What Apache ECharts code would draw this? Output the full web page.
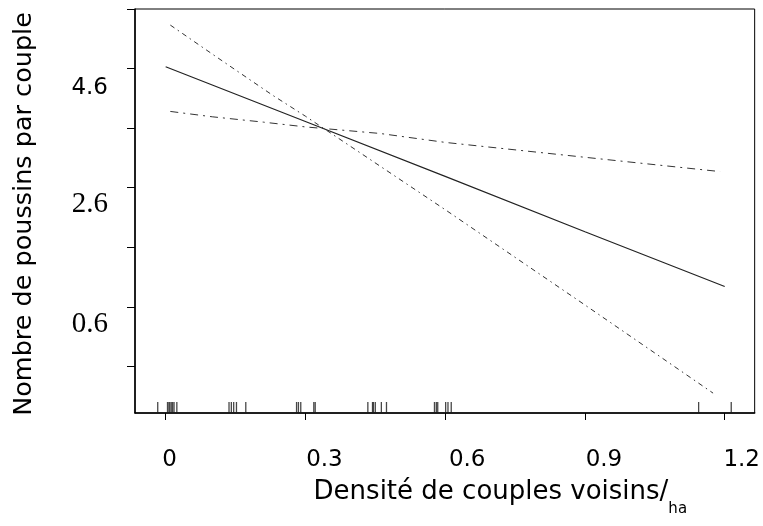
<!DOCTYPE html>
<html>
<head>
<meta charset="utf-8">
<script src="https://cdn.jsdelivr.net/npm/echarts@6/dist/echarts.min.js"></script>
<style>
html,body{margin:0;padding:0;background:#fff;}
#chart{width:763px;height:526px;}
</style>
</head>
<body>
<div id="chart"></div>
<script>
// ---- data ----
const xTickValues = [0, 0.3, 0.6, 0.9, 1.2];
const xTickLabels = ['0', '0.3', '0.6', '0.9', '1.2'];
const yTickValues = [-0.4, 0.6, 1.6, 2.6, 3.6, 4.6, 5.6];
const yLabelValues = [0.6, 2.6, 4.6];
const yLabelTexts = ['0.6', '2.6', '4.6'];

const fitX = [0, 0.3, 0.6, 0.9, 1.2];
const fitY = [4.63, 3.71, 2.79, 1.86, 0.94];

const bandAX = [0.01, 0.11, 0.23, 0.3, 0.6, 0.9, 1.175];
const bandAY = [5.33, 4.79, 4.15, 3.8, 2.23, 0.63, -0.85];

const bandBX = [0.01, 0.1, 0.21, 0.3, 0.46, 0.6, 0.9, 1.19];
const bandBY = [3.88, 3.79, 3.7, 3.62, 3.51, 3.36, 3.11, 2.87];

const rugX = [-0.017, 0.004, 0.007, 0.009, 0.012, 0.015, 0.018, 0.024,
  0.136, 0.141, 0.146, 0.152, 0.172,
  0.281, 0.285, 0.290, 0.318, 0.321,
  0.434, 0.444, 0.446, 0.450, 0.463, 0.474,
  0.577, 0.581, 0.584, 0.601, 0.606, 0.613,
  1.144, 1.214];

const xName = 'Densité de couples voisins/';
const xNameSub = 'ha';
const yName = 'Nombre de poussins par couple';

// ---- axis extents (layout) ----
const X_MIN = -0.0658, X_MAX = 1.2643;
const Y_MIN = -1.184, Y_MAX = 5.6;

const zip = (xs, ys) => xs.map((x, i) => [x, ys[i]]);
const idxOf = (arr, v) => arr.findIndex(a => Math.abs(a - v) < 1e-9);

const SANS = 'DejaVu Sans';
const SERIF = 'Liberation Serif';

// per-label styling (positions as in the scanned figure)
const xLabelRich = {
  x0: { fontFamily: SANS, fontSize: 23, color: '#000', padding: [0, 0, 0, 8] },
  x1: { fontFamily: SANS, fontSize: 23, color: '#000', padding: [0, 0, 0, 38] },
  x2: { fontFamily: SANS, fontSize: 23, color: '#000', padding: [0, 0, 0, 44] },
  x3: { fontFamily: SANS, fontSize: 23, color: '#000', padding: [0, 0, 0, 38] },
  x4: { fontFamily: SANS, fontSize: 23, color: '#000', padding: [0, 0, 0, 34] }
};
const yLabelRich = {
  y0: { fontFamily: SERIF, fontSize: 29, color: '#000', padding: [35, 0, 0, 0] },
  y1: { fontFamily: SERIF, fontSize: 29, color: '#000', padding: [33, 0, 0, 0] },
  y2: { fontFamily: SANS, fontSize: 23, color: '#000', padding: [38, 0, 0, 0] }
};

const chart = echarts.init(document.getElementById('chart'), null, { renderer: 'canvas' });

chart.setOption({
  animation: false,
  backgroundColor: '#fff',
  grid: {
    left: 135, right: 8, top: 9, bottom: 113,
    show: true, borderColor: '#000', borderWidth: 1, backgroundColor: 'transparent'
  },
  xAxis: {
    type: 'value', min: X_MIN, max: X_MAX,
    splitLine: { show: false },
    axisLine: { show: true, onZero: false, lineStyle: { color: '#000', width: 1.5 } },
    axisTick: { show: true, customValues: xTickValues, length: 7, lineStyle: { color: '#000', width: 1 } },
    axisLabel: {
      customValues: xTickValues, margin: 36,
      formatter: v => { const i = idxOf(xTickValues, v); return i < 0 ? '' : '{x' + i + '|' + xTickLabels[i] + '}'; },
      rich: xLabelRich
    },
    name: '{m|' + xName + '}{s|' + xNameSub + '}',
    nameLocation: 'middle', nameGap: 66,
    nameTextStyle: {
      padding: [0, 0, 0, 111],
      rich: {
        m: { fontFamily: SANS, fontSize: 26, color: '#000', lineHeight: 30, verticalAlign: 'top' },
        s: { fontFamily: SANS, fontSize: 15, color: '#000', lineHeight: 18, verticalAlign: 'top', padding: [23, 0, 0, 0] }
      }
    }
  },
  yAxis: {
    type: 'value', min: Y_MIN, max: Y_MAX,
    splitLine: { show: false },
    axisLine: { show: true, onZero: false, lineStyle: { color: '#000', width: 1.5 } },
    axisTick: { show: true, customValues: yTickValues, length: 8, lineStyle: { color: '#000', width: 1 } },
    axisLabel: {
      customValues: yLabelValues, margin: 27,
      formatter: v => { const i = idxOf(yLabelValues, v); return i < 0 ? '' : '{y' + i + '|' + yLabelTexts[i] + '}'; },
      rich: yLabelRich
    },
    name: yName, nameLocation: 'middle', nameGap: 98, nameRotate: 90,
    nameTextStyle: { fontFamily: SANS, fontSize: 25.5, color: '#000', padding: [0, 6, 0, 0] }
  },
  series: [
    {
      type: 'line', data: zip(fitX, fitY), showSymbol: false, symbol: 'none',
      lineStyle: { color: '#222', width: 1.2, type: 'solid' }, silent: true
    },
    {
      type: 'line', data: zip(bandAX, bandAY), showSymbol: false, symbol: 'none',
      lineStyle: { color: '#333', width: 1, type: [5, 4, 1.5, 4] }, silent: true
    },
    {
      type: 'line', data: zip(bandBX, bandBY), showSymbol: false, symbol: 'none',
      lineStyle: { color: '#333', width: 1, type: [8, 5, 2, 5] }, silent: true
    },
    {
      type: 'scatter', data: rugX.map(x => [x, Y_MIN]),
      symbol: 'rect', symbolSize: [1.3, 11], symbolOffset: [0, -5.5],
      itemStyle: { color: '#1a1a1a' }, silent: true, clip: false, z: 5
    }
  ]
});
</script>
</body>
</html>
